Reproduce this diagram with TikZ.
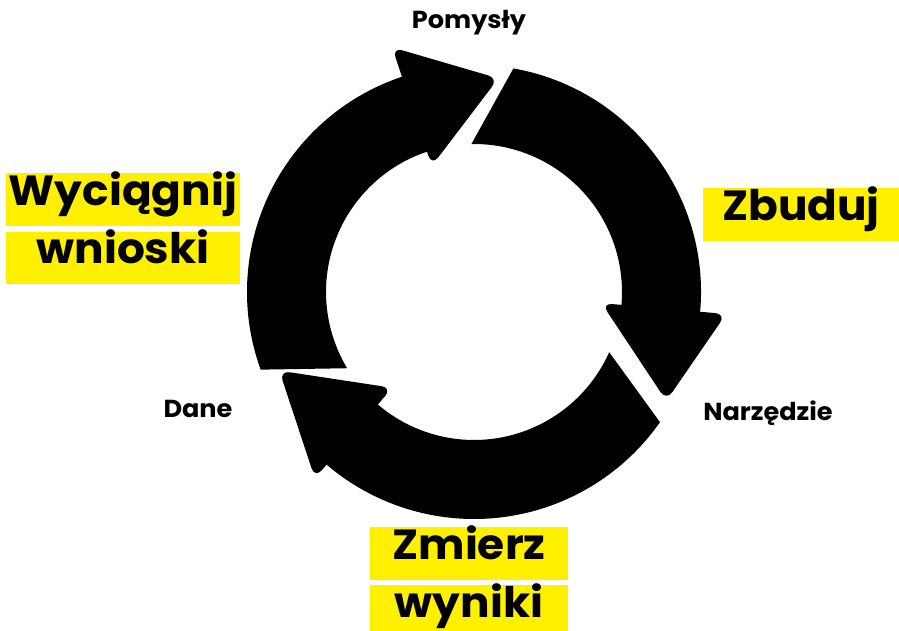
\documentclass[tikz,border=0pt]{standalone}
\usepackage{fontspec}
\setmainfont{Poppins}[FakeStretch=1.04]
\usepackage{tikz}
\usetikzlibrary{positioning}

\definecolor{markyellow}{RGB}{255,240,0}

\begin{document}
\begin{tikzpicture}[x=0.02cm, y=0.02cm,
    tag/.style={fill=markyellow, inner sep=0pt, text height=0.7em, text depth=0pt, font=\fontsize{24}{28}\selectfont\bfseries},
    small/.style={anchor=base, font=\fontsize{14}{16}\selectfont\bfseries},
    arrowpart/.style={fill=black},
    arrowhead/.style={fill=black, rounded corners=6pt}]
    \useasboundingbox (-474,-339) rectangle (425,292);

    % ring of three arrows (stem, then head on top)
    \fill[arrowpart] (80:227) arc[start angle=80, end angle=-8, radius=227] -- (-8:148) arc[start angle=-8, end angle=91, radius=148] -- cycle;
    \fill[arrowhead] (-5:253) -- (-29.5:221) -- (-5:128) -- cycle;
    \fill[arrowpart] (325:227) arc[start angle=325, end angle=226.5, radius=227] -- (226.5:148) arc[start angle=226.5, end angle=336, radius=148] -- cycle;
    \fill[arrowhead] (229.5:245) -- (202:210) -- (229.5:126) -- cycle;
    \fill[arrowpart] (200:227) arc[start angle=200, end angle=105.5, radius=227] -- (105.5:148) arc[start angle=105.5, end angle=211, radius=148] -- cycle;
    \fill[arrowhead] (108.5:258) -- (83.5:215) -- (108.5:133) -- cycle;

    % labels
    \node[small] (ideas) at (-5,263) {Pomysły};
    \node[small] (tool) at (294,-129) {Narzędzie};
    \node[small] (data) at (-276,-126) {Dane};

    \node[tag, minimum width=3.92cm, minimum height=1.06cm] (build) at (327,77.5) {Zbuduj};
    \node[tag, minimum width=4.68cm, minimum height=1.06cm] (learn1) at (-351,92.5) {Wyciągnij};
    \node[tag, minimum width=4.68cm, minimum height=1.04cm, below=0.1cm of learn1] (learn2) {wnioski};
    \node[tag, minimum width=3.96cm, minimum height=1.06cm] (measure1) at (-5,-261.5) {Zmierz};
    \node[tag, minimum width=3.96cm, minimum height=1.06cm, below=0.08cm of measure1] (measure2) {wyniki};
\end{tikzpicture}
\end{document}
